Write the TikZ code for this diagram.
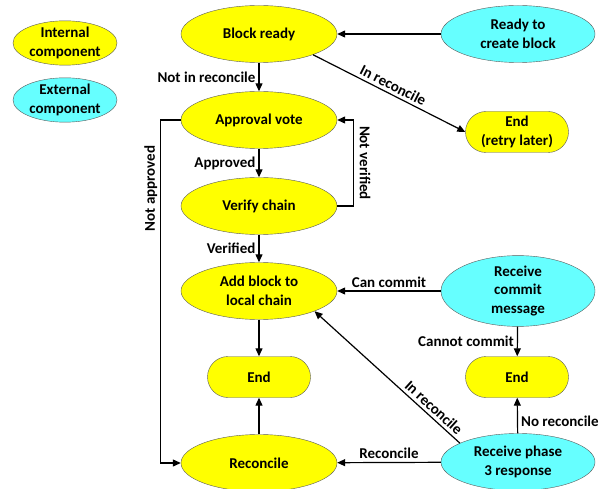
\documentclass[tikz,border=0pt]{standalone}
\usepackage{fontspec}
\setmainfont{Carlito}
\usetikzlibrary{arrows.meta,shapes.geometric,shapes.misc}
\definecolor{intyellow}{RGB}{255,255,0}
\definecolor{extcyan}{RGB}{102,255,255}

\begin{document}
\begin{tikzpicture}[x=1pt,y=-1pt,
  font=\bfseries\fontsize{15}{18.5}\selectfont,
  internal/.style={ellipse,draw=black!65,fill=intyellow,inner sep=0pt,minimum width=156pt,minimum height=57pt,align=center},
  external/.style={ellipse,draw=black!65,fill=extcyan,inner sep=0pt,minimum width=154pt,minimum height=57pt,align=center},
  endbox/.style={rounded rectangle,draw=black!65,fill=intyellow,inner sep=0pt,minimum width=103pt,minimum height=41pt,align=center},
  legend/.style={ellipse,draw=black!65,inner sep=0pt,minimum width=104pt,minimum height=40pt,align=center},
  arr/.style={-{Triangle[length=8pt,width=7pt]},line width=1.2pt},
  lbl/.style={inner sep=3pt}]
\useasboundingbox (0,0) rectangle (608,489);
% legend
\node[legend,fill=intyellow] (leginternal) at (65,43) {Internal\\component};
\node[legend,fill=extcyan] (legexternal) at (65,100) {External\\component};
% main column
\node[internal] (blockready) at (259,34) {Block ready};
\node[internal] (approval) at (259,120) {Approval vote};
\node[internal] (verify) at (259,206) {Verify chain};
\node[internal] (addblock) at (259,291) {Add block to\\local chain};
\node[endbox] (endmid) at (259,377) {End};
\node[internal] (reconcile) at (259,463) {Reconcile};
% right column
\node[external] (readycreate) at (518,34) {Ready to\\create block};
\node[endbox] (retry) at (517,132) {End\\(retry later)};
\node[external] (commitmsg) at (518,291) {Receive\\commit\\message};
\node[endbox] (endright) at (517,377) {End};
\node[external] (phasethree) at (518,462) {Receive phase\\3 response};
% connectors
\draw[arr] (readycreate) -- (blockready);
\draw[arr] (blockready) -- node[lbl,left] {Not in reconcile} (approval);
\draw[arr] (blockready.-21) -- node[lbl,above,sloped] {In reconcile} (retry.west);
\draw[arr] (approval) -- node[lbl,left] {Approved} (verify);
\draw[arr] (verify.east) -- ++(16,0) |- node[pos=0.25,inner sep=6pt,rotate=-90,anchor=south] {Not verified} (approval.east);
\draw[arr] (approval.west) -- ++(-20,0) |- node[pos=0.1,lbl,rotate=90,anchor=south] {Not approved} (reconcile.west);
\draw[arr] (verify) -- node[lbl,left] {Verified} (addblock);
\draw[arr] (addblock) -- (endmid);
\draw[arr] (reconcile) -- (endmid);
\draw[arr] (commitmsg) -- node[lbl,above] {Can commit} (addblock);
\draw[arr] (commitmsg) -- node[lbl,left] {Cannot commit} (endright);
\draw[arr] (phasethree) -- node[pos=0.35,lbl,right] {No reconcile} (endright);
\draw[arr] (phasethree) -- node[lbl,above] {Reconcile} (reconcile);
\draw[arr] (phasethree.162) -- node[pos=0.22,lbl,above,sloped] {In reconcile} (addblock.-20);
\end{tikzpicture}
\end{document}
